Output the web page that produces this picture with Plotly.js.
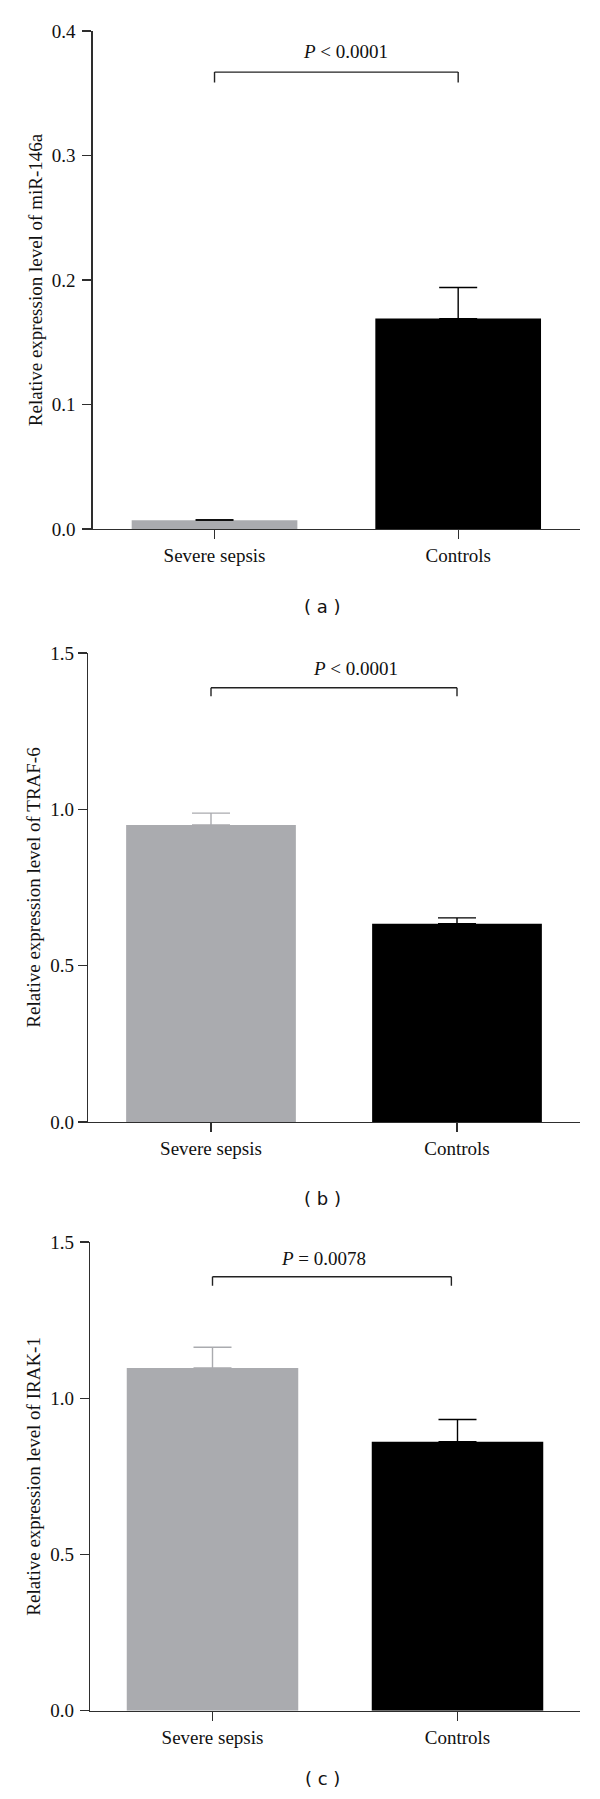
<!DOCTYPE html>
<html>
<head>
<meta charset="utf-8">
<script src="https://cdn.plot.ly/plotly-3.0.1.min.js"></script>
<style>
  html, body { margin: 0; padding: 0; background: #fff; }
  #chart { width: 600px; height: 1799px; }
</style>
</head>
<body>
<div id="chart"></div>
<script>
// ---- Data ----
const categories = ["Severe sepsis", "Controls"];

const miR146aMeans = [0.007, 0.169];
const miR146aErrors = [0.0005, 0.025];

const traf6Means = [0.950, 0.634];
const traf6Errors = [0.038, 0.019];

const irak1Means = [1.097, 0.861];
const irak1Errors = [0.066, 0.071];

const pValueTexts = ["<i>P</i> &lt; 0.0001", "<i>P</i> &lt; 0.0001", "<i>P</i> = 0.0078"];
const panelLabels = ["( a )", "( b )", "( c )"];
const yTitles = [
  "Relative expression level of miR-146a",
  "Relative expression level of TRAF-6",
  "Relative expression level of IRAK-1"
];

// ---- Styling ----
const GRAY = "#aaabaf";
const BLACK = "#000000";
const AXIS = "#2e2e2e";
const SERIF = "'Liberation Serif', serif";
const SANS = "'DejaVu Sans', sans-serif";
const H = 1799, W = 600;

const panels = [
  { means: miR146aMeans, errs: miR146aErrors, xa: "x",  ya: "y",  errColors: ["#111111", BLACK],
    range: [0, 0.4], dtick: 0.1, xpx: [92.7, 580], ypx: [31, 529], barWidth: 0.68,
    bracket: { x0: 0, x1: 1, top: 0.367, drop: 0.3586 }, ptext: { x: 0.536, y: 0.3835 },
    labelPx: 606, standoff: 3 },
  { means: traf6Means, errs: traf6Errors, xa: "x2", ya: "y2", errColors: [GRAY, BLACK],
    range: [0, 1.5], dtick: 0.5, xpx: [88, 580], ypx: [653, 1122], barWidth: 0.69,
    bracket: { x0: 0, x1: 1, top: 1.389, drop: 1.362 }, ptext: { x: 0.588, y: 1.45 },
    labelPx: 1198, standoff: 0 },
  { means: irak1Means, errs: irak1Errors, xa: "x3", ya: "y3", errColors: [GRAY, BLACK],
    range: [0, 1.5], dtick: 0.5, xpx: [90, 580], ypx: [1242, 1710.7], barWidth: 0.70,
    bracket: { x0: 0, x1: 0.975, top: 1.389, drop: 1.36 }, ptext: { x: 0.451, y: 1.446 },
    labelPx: 1778, standoff: 2 }
];

const traces = [];
const shapes = [];
const annotations = [];
const layout = {
  width: W, height: H,
  margin: { l: 0, r: 0, t: 0, b: 0 },
  paper_bgcolor: "#fff", plot_bgcolor: "#fff",
  showlegend: false,
  barmode: "overlay",
  font: { family: SERIF, size: 19, color: "#111" }
};

panels.forEach((p, i) => {
  const colors = [GRAY, BLACK];
  categories.forEach((cat, j) => {
    traces.push({
      type: "bar",
      x: [cat],
      y: [p.means[j]],
      width: p.barWidth,
      xaxis: p.xa, yaxis: p.ya,
      marker: { color: colors[j], line: { width: 0 } },
      error_y: {
        type: "data", symmetric: false,
        array: [p.errs[j]], arrayminus: [0],
        color: p.errColors[j], thickness: 1.4, width: 19
      },
      hoverinfo: "skip"
    });
  });

  const sfx = i === 0 ? "" : String(i + 1);
  layout["xaxis" + sfx] = {
    domain: [p.xpx[0] / W, p.xpx[1] / W], anchor: "y" + sfx,
    type: "category", categoryorder: "array", categoryarray: categories,
    range: [-0.5, 1.5], fixedrange: true,
    showline: true, linecolor: AXIS, linewidth: 1.3,
    ticks: "outside", ticklen: 9, tickwidth: 1.3, tickcolor: AXIS,
    showgrid: false, zeroline: false,
    tickfont: { family: SERIF, size: 19, color: "#111" }
  };
  layout["yaxis" + sfx] = {
    domain: [1 - p.ypx[1] / H, 1 - p.ypx[0] / H], anchor: "x" + sfx,
    range: p.range, dtick: p.dtick, tick0: 0, tickformat: ".1f",
    fixedrange: true,
    showline: true, linecolor: AXIS, linewidth: 1.3,
    ticks: "outside", ticklen: 9, tickwidth: 1.3, tickcolor: AXIS,
    showgrid: false, zeroline: false,
    ticklabelstandoff: p.standoff,
    tickfont: { family: SERIF, size: 19, color: "#111" },
    title: { text: yTitles[i], font: { family: SERIF, size: 19, color: "#111" }, standoff: 4 }
  };

  const b = p.bracket;
  const lineStyle = { color: "#222", width: 1.4 };
  shapes.push(
    { type: "line", xref: p.xa, yref: p.ya, x0: b.x0, x1: b.x0, y0: b.drop, y1: b.top, line: lineStyle },
    { type: "line", xref: p.xa, yref: p.ya, x0: b.x0, x1: b.x1, y0: b.top, y1: b.top, line: lineStyle },
    { type: "line", xref: p.xa, yref: p.ya, x0: b.x1, x1: b.x1, y0: b.drop, y1: b.top, line: lineStyle }
  );

  annotations.push({
    xref: p.xa, yref: p.ya, x: p.ptext.x, y: p.ptext.y,
    text: pValueTexts[i], showarrow: false,
    font: { family: SERIF, size: 19, color: "#111" },
    xanchor: "center", yanchor: "middle"
  });
  annotations.push({
    xref: "paper", yref: "paper", x: 322 / W, y: 1 - p.labelPx / H,
    text: panelLabels[i], showarrow: false,
    font: { family: SANS, size: 18, color: "#111" },
    xanchor: "center", yanchor: "middle"
  });
});

layout.shapes = shapes;
layout.annotations = annotations;

Plotly.newPlot("chart", traces, layout, { staticPlot: true, displayModeBar: false });
</script>
</body>
</html>
